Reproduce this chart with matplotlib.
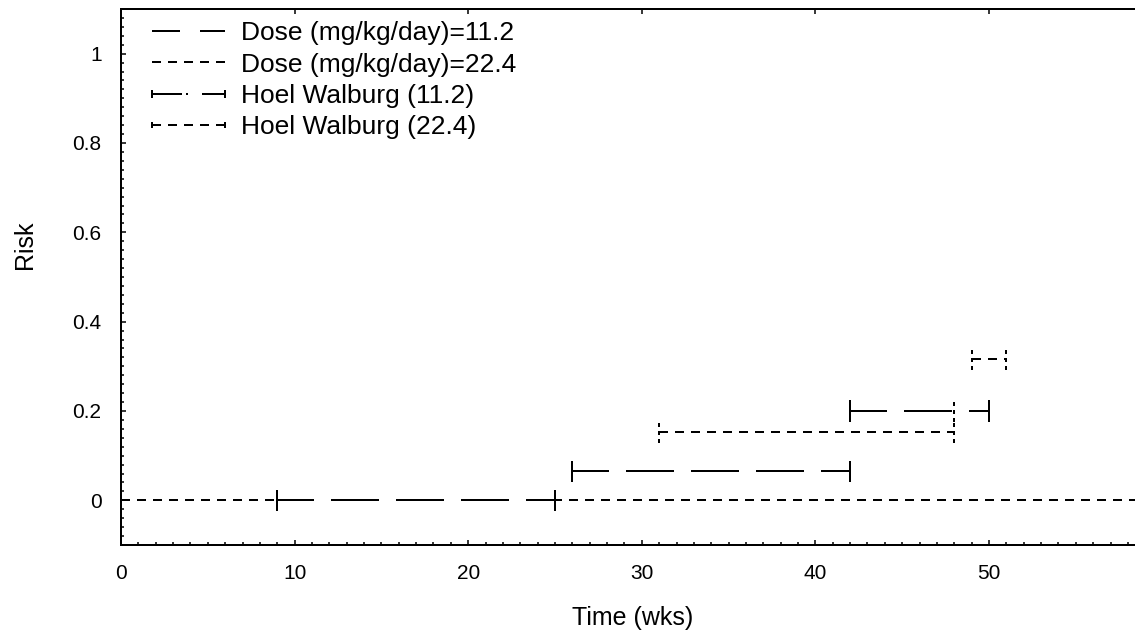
import matplotlib
matplotlib.use('Agg')
import matplotlib.pyplot as plt
from matplotlib.lines import Line2D
from matplotlib.legend_handler import HandlerLine2D
from matplotlib.ticker import MultipleLocator, FuncFormatter

plt.rcParams['font.family'] = ['Liberation Sans', 'DejaVu Sans']
plt.rcParams['lines.scale_dashes'] = False

# data
dose_time = [0, 60]
dose_112_risk = [0, 0]
dose_224_risk = [0, 0]

# Hoel Walburg intervals (start, end, risk)
hw112_start = [9, 26, 42]
hw112_end = [25, 42, 50]
hw112_risk = [0.0, 0.065, 0.2]

hw224_start = [31, 48, 49]
hw224_end = [48, 48, 51]
hw224_risk = [0.152, 0.2, 0.316]

labels = ['Dose (mg/kg/day)=11.2', 'Dose (mg/kg/day)=22.4',
          'Hoel Walburg (11.2)', 'Hoel Walburg (22.4)']

PX = 72 / 100.0  # points per pixel
lw = 2 * PX
long_dose = (0, (28 * PX, 20 * PX))
long_hw = (11 * PX, (48 * PX, 17 * PX))
short = (0, (9 * PX, 7 * PX))
cap = 0.024

fig = plt.figure(figsize=(11.35, 6.44), dpi=100)
ax = fig.add_axes([121 / 1135, 99 / 644, 1041.6 / 1135, 536 / 644])

ax.plot(dose_time, dose_112_risk, color='k', lw=lw, linestyle=long_dose)
ax.plot(dose_time, dose_224_risk, color='k', lw=lw, linestyle=short, gapcolor='white')

for s, e, r in zip(hw112_start, hw112_end, hw112_risk):
    ax.plot([s, e], [r, r], color='k', lw=lw, linestyle=long_hw, gapcolor='white')
    ax.vlines([s, e], r - cap, r + cap, color='k', lw=lw)

for s, e, r in zip(hw224_start, hw224_end, hw224_risk):
    if e > s:
        ax.plot([s, e], [r, r], color='k', lw=lw, linestyle=short)
    ax.vlines([s, e], r - cap, r + cap, color='k', lw=lw, linestyles=(0, (4 * PX, 4 * PX)))

ax.set_xlim(0, 60)
ax.set_ylim(-0.1, 1.1)
ax.set_xticks([0, 10, 20, 30, 40, 50])
ax.set_yticks([0, 0.2, 0.4, 0.6, 0.8, 1.0])
ax.xaxis.set_minor_locator(MultipleLocator(1))
ax.yaxis.set_minor_locator(MultipleLocator(0.02))
ax.yaxis.set_major_formatter(FuncFormatter(lambda v, p: '%g' % round(v, 2)))
ax.tick_params(which='both', direction='in', top=True, right=True, width=1.1, labelsize=15)
ax.tick_params(which='major', length=5 * PX, pad=14)
ax.tick_params(which='minor', length=3 * PX, top=False)
for sp in ax.spines.values():
    sp.set_linewidth(2 * PX)

ax.set_xlabel('Time (wks)', fontsize=18)
ax.xaxis.set_label_coords((633 - 121) / 1041.6, -(618 - 545) / 536)
ax.xaxis.label.set_verticalalignment('center')
ax.set_ylabel('Risk', fontsize=18)
ax.yaxis.set_label_coords(-(120 - 24) / 1041.6, 0.561)
ax.yaxis.label.set_verticalalignment('center')

handles = [
    Line2D([], [], color='k', lw=lw, linestyle=long_dose),
    Line2D([], [], color='k', lw=lw, linestyle=short),
    Line2D([], [], color='k', lw=lw, linestyle=(0, (30 * PX, 4 * PX, 2 * PX, 14 * PX)),
           marker='|', markersize=8 * PX, markeredgewidth=lw),
    Line2D([], [], color='k', lw=lw, linestyle=short,
           marker='|', markersize=6 * PX, markeredgewidth=lw),
]
ax.legend(handles, labels, loc='upper left', bbox_to_anchor=(31 / 1041.6, 0.977),
          frameon=False, fontsize=19, numpoints=2, borderpad=0, borderaxespad=0,
          handlelength=2.77, handletextpad=0.62, labelspacing=0.28,
          handler_map={Line2D: HandlerLine2D(marker_pad=0)})

fig.savefig('out.png', dpi=100)
